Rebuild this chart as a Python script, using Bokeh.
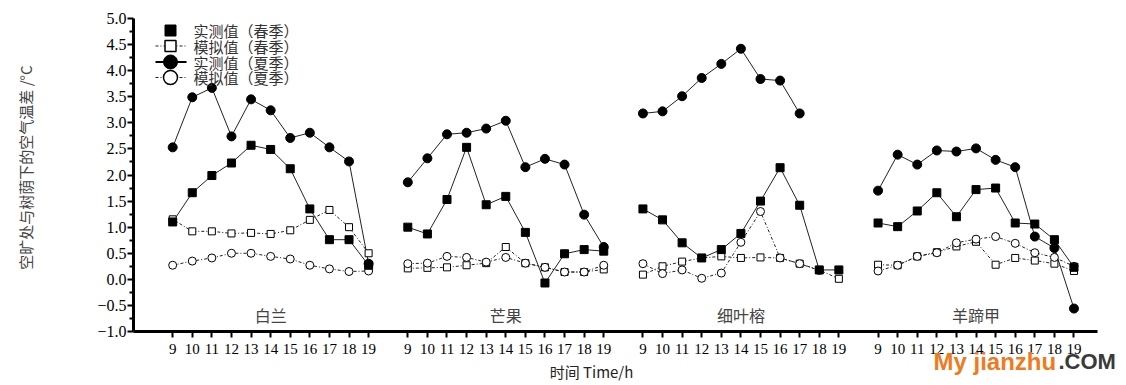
import math
from bokeh.plotting import figure
from bokeh.models import Range1d, FixedTicker, Label, LinearAxis, ColumnDataSource
from bokeh.core.properties import value
from bokeh.embed import file_html
from bokeh.resources import INLINE

NaN = float("nan")

# ---------------- data ----------------
hours = [9, 10, 11, 12, 13, 14, 15, 16, 17, 18, 19]
groups = ["白兰", "芒果", "细叶榕", "羊蹄甲"]
y_ticks = [-1.0, -0.5, 0.0, 0.5, 1.0, 1.5, 2.0, 2.5, 3.0, 3.5, 4.0, 4.5, 5.0]

# 实测值（春季）
spring_measured = [
    [1.10, 1.66, 1.99, 2.23, 2.57, 2.49, 2.12, 1.35, 0.76, 0.76, 0.27],
    [1.00, 0.87, 1.53, 2.53, 1.43, 1.59, 0.90, -0.07, 0.49, 0.57, 0.54],
    [1.35, 1.14, 0.70, 0.41, 0.57, 0.88, 1.50, 2.14, 1.42, 0.18, 0.18],
    [1.08, 1.01, 1.31, 1.66, 1.20, 1.72, 1.75, 1.08, 1.06, 0.76, 0.23],
]
# 模拟值（春季）
spring_simulated = [
    [1.15, 0.92, 0.92, 0.88, 0.89, 0.87, 0.94, 1.14, 1.33, 1.00, 0.50],
    [0.21, 0.22, 0.23, 0.27, 0.31, 0.62, 0.31, 0.23, 0.14, 0.14, 0.19],
    [0.09, 0.25, 0.34, 0.41, 0.44, 0.41, 0.42, 0.41, 0.30, 0.18, 0.01],
    [0.28, 0.27, 0.44, 0.52, 0.63, 0.72, 0.28, 0.41, 0.36, 0.30, 0.16],
]
# 实测值（夏季）
summer_measured = [
    [2.53, 3.49, 3.67, 2.74, 3.45, 3.24, 2.71, 2.81, 2.53, 2.26, 0.30],
    [1.86, 2.32, 2.78, 2.81, 2.89, 3.04, 2.15, 2.31, 2.20, 1.24, 0.62],
    [3.18, 3.22, 3.51, 3.86, 4.13, 4.42, 3.84, 3.81, 3.18, NaN, NaN],
    [1.70, 2.39, 2.20, 2.47, 2.45, 2.51, 2.29, 2.15, 0.82, 0.60, -0.56],
]
# 模拟值（夏季）
summer_simulated = [
    [0.27, 0.35, 0.41, 0.50, 0.50, 0.44, 0.39, 0.27, 0.20, 0.15, 0.16],
    [0.30, 0.31, 0.44, 0.42, 0.33, 0.42, 0.31, 0.23, 0.14, 0.14, 0.27],
    [0.30, 0.11, 0.18, 0.02, 0.12, 0.71, 1.30, 0.41, 0.30, 0.17, NaN],
    [0.16, 0.27, 0.44, 0.51, 0.70, 0.77, 0.82, 0.69, 0.51, 0.42, 0.25],
]

legend_labels = ["实测值（春季）", "模拟值（春季）", "实测值（夏季）", "模拟值（夏季）"]
x_title = "时间 Time/h"
y_title = "空旷处与树荫下的空气温差 /°C"
watermark_a = "My jianzhu"
watermark_b = ".COM"

GROUP_STEP = 12

# ---------------- layout ----------------
W, H = 1120, 384
AXL, AXR, AXT, AXB = 133, 1097, 18, 331      # plotted area edges (canvas px)
XA0, XA1, YA0, YA1 = -2.0, 47.2, -1.0, 5.0    # axis extents (data)
PX_PER_X = (AXR - AXL) / (XA1 - XA0)
PX_PER_Y = (AXB - AXT) / (YA1 - YA0)
X0 = XA0 - AXL / PX_PER_X
X1 = XA1 + (W - AXR) / PX_PER_X
Y0 = YA0 - (H - AXB) / PX_PER_Y
Y1 = YA1 + AXT / PX_PER_Y


def px_x(px):
    return XA0 + (px - AXL) / PX_PER_X


def px_y(py):
    return YA1 - (py - AXT) / PX_PER_Y


def positions():
    xs = []
    for g in range(len(groups)):
        for h in hours:
            xs.append(g * GROUP_STEP + (h - hours[0]))
    return xs


def flat(series):
    xs, ys = [], []
    for g, vals in enumerate(series):
        for h, v in zip(hours, vals):
            xs.append(g * GROUP_STEP + (h - hours[0]))
            ys.append(v)
        xs.append(NaN)
        ys.append(NaN)
    return xs, ys


SERIF = "Liberation Serif"
CJK = "Noto Sans CJK SC"

p = figure(width=W, height=H, output_backend="svg", toolbar_location=None,
           x_range=Range1d(X0, X1), y_range=Range1d(Y0, Y1),
           x_axis_location=None, y_axis_location=None,
           min_border_left=0, min_border_right=0, min_border_top=0, min_border_bottom=0)
p.outline_line_color = None
p.grid.visible = False
p.background_fill_color = "white"
p.border_fill_color = "white"

# axes (fixed at the plotted-area edges)
xt = positions()
xaxis = LinearAxis(fixed_location=YA0)
xaxis.ticker = FixedTicker(ticks=xt, minor_ticks=[])
xaxis.major_label_overrides = {x: str(hours[i % len(hours)]) for i, x in enumerate(xt)}
xaxis.bounds = (XA0, XA1)
p.add_layout(xaxis, "below")

yaxis = LinearAxis(fixed_location=XA0)
minor_y = [t + 0.25 for t in y_ticks[:-1]]
yaxis.ticker = FixedTicker(ticks=y_ticks, minor_ticks=minor_y)
yaxis.major_label_overrides = {t: ("%.1f" % t).replace("-", "\u2212") for t in y_ticks}
yaxis.bounds = (YA0, YA1)
p.add_layout(yaxis, "left")

for ax in (xaxis, yaxis):
    ax.axis_line_width = 3
    ax.axis_line_color = "black"
    ax.major_tick_line_width = 2
    ax.major_tick_line_color = "black"
    ax.major_tick_out = 6
    ax.major_tick_in = 0
    ax.minor_tick_line_width = 2
    ax.minor_tick_line_color = "black"
    ax.minor_tick_out = 4
    ax.minor_tick_in = 0
    ax.major_label_text_font = SERIF
    ax.major_label_text_color = "black"

xaxis.major_label_text_font_size = "15px"
xaxis.major_label_standoff = 6
yaxis.major_label_text_font_size = "16px"
yaxis.major_label_standoff = 1

LINE = "#222222"
SIM_DASH = "3 2 1 2"

# series lines
for series, dash in ((spring_measured, "solid"), (spring_simulated, SIM_DASH),
                     (summer_measured, "solid"), (summer_simulated, SIM_DASH)):
    xs, ys = flat(series)
    p.line(xs, ys, line_color=LINE, line_width=1, line_dash=dash)

# series markers
xs, ys = flat(spring_simulated)
p.scatter(xs, ys, marker="square", size=7, fill_color="white", line_color="black", line_width=1)
xs, ys = flat(summer_simulated)
p.scatter(xs, ys, marker="circle", size=8, fill_color="white", line_color="black", line_width=1)
xs, ys = flat(spring_measured)
p.scatter(xs, ys, marker="square", size=8, fill_color="black", line_color="black")
xs, ys = flat(summer_measured)
p.scatter(xs, ys, marker="circle", size=9, fill_color="black", line_color="black")

# group labels
gsrc = ColumnDataSource(dict(x=[g * GROUP_STEP + 5 for g in range(len(groups))],
                             y=[-0.68] * len(groups), t=groups))
p.text(x="x", y="y", text="t", source=gsrc, text_font=value(CJK), text_font_size="16px",
       text_color="#444444", text_align="center", text_baseline="middle")

# legend (key inside the plotted area, top-left)
row_px = [30, 45.5, 61.5, 77]
ry = [px_y(r) for r in row_px]
gx = px_x(170)
lx0, lx1 = px_x(155), px_x(186)
tx = px_x(193)
p.segment(x0=[lx0], y0=[ry[1]], x1=[lx1], y1=[ry[1]], line_color=LINE, line_width=1, line_dash=SIM_DASH)
p.segment(x0=[lx0], y0=[ry[2]], x1=[lx1], y1=[ry[2]], line_color="black", line_width=2)
p.segment(x0=[lx0], y0=[ry[3]], x1=[lx1], y1=[ry[3]], line_color=LINE, line_width=1, line_dash=SIM_DASH)
p.scatter([gx], [ry[0]], marker="square", size=11, fill_color="black", line_color="black")
p.scatter([gx], [ry[1]], marker="square", size=11, fill_color="white", line_color="black", line_width=1.5)
p.scatter([gx], [ry[2]], marker="circle", size=14, fill_color="black", line_color="black")
p.scatter([gx], [ry[3]], marker="circle", size=14, fill_color="white", line_color="black", line_width=1.5)
lsrc = ColumnDataSource(dict(x=[tx] * 4, y=ry, t=legend_labels))
p.text(x="x", y="y", text="t", source=lsrc, text_font=value(CJK), text_font_size="15px",
       text_color="#333333", text_align="left", text_baseline="middle")

# axis titles
p.add_layout(Label(x=px_x(591), y=px_y(371), text=x_title, text_font=CJK,
                   text_font_size="15px", text_color="#222222",
                   text_align="center", text_baseline="middle"))
p.add_layout(Label(x=px_x(25), y=px_y(167), text=y_title, angle=math.pi / 2,
                   text_font=CJK, text_font_size="15px", text_color="#444444",
                   text_align="center", text_baseline="middle"))

# watermark
p.add_layout(Label(x=px_x(933), y=px_y(361), text=watermark_a,
                   text_font="Liberation Sans", text_font_style="bold", text_font_size="24px",
                   text_color="#f07a1e", text_align="left", text_baseline="middle"))
p.add_layout(Label(x=px_x(1058), y=px_y(361), text=watermark_b,
                   text_font="Liberation Sans", text_font_style="bold", text_font_size="22px",
                   text_color="#3a3a3a", text_align="left", text_baseline="middle"))

open("out.html", "w").write(file_html(p, INLINE))
